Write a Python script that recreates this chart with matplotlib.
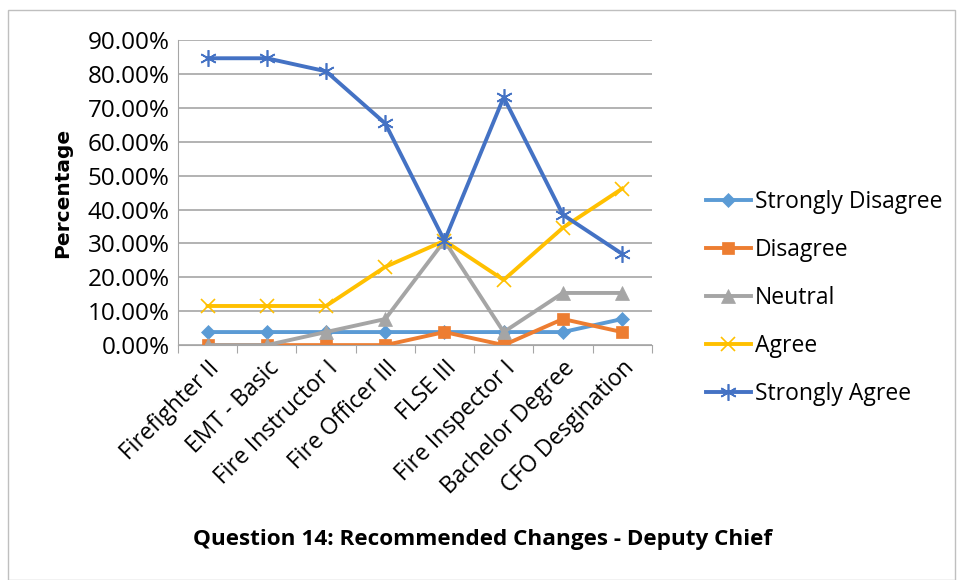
import matplotlib.pyplot as plt
from matplotlib.ticker import FuncFormatter
import numpy as np

plt.rcParams['font.family'] = ['Open Sans', 'DejaVu Sans']

categories = ['Firefighter II', 'EMT - Basic', 'Fire Instructor I', 'Fire Officer III',
              'FLSE III', 'Fire Inspector I', 'Bachelor Degree', 'CFO Desgination']

strongly_disagree = [3.85, 3.85, 3.85, 3.85, 3.85, 3.85, 3.85, 7.69]
disagree = [0.0, 0.0, 0.0, 0.0, 3.85, 0.0, 7.69, 3.85]
neutral = [0.0, 0.0, 3.85, 7.69, 30.77, 3.85, 15.38, 15.38]
agree = [11.54, 11.54, 11.54, 23.08, 30.77, 19.23, 34.62, 46.15]
strongly_agree = [84.62, 84.62, 80.77, 65.38, 30.77, 73.08, 38.46, 26.92]

series = [
    ('Strongly Disagree', strongly_disagree, '#5B9BD5', 'D', 7),
    ('Disagree', disagree, '#ED7D31', 's', 9),
    ('Neutral', neutral, '#A5A5A5', '^', 10),
    ('Agree', agree, '#FFC000', 'x', 10),
    ('Strongly Agree', strongly_agree, '#4472C4', (6, 2, 0), 12),
]

fig = plt.figure(figsize=(9.57, 5.8), dpi=100)
ax = fig.add_axes([0.186, 0.405, 0.495, 0.526])

x = np.arange(len(categories))
for name, vals, col, mk, ms in series:
    ax.plot(x, vals, color=col, lw=2.8, marker=mk, markersize=ms, label=name,
            markeredgewidth=1.2 if mk in ('x',) or isinstance(mk, tuple) else 0.5)

ax.set_xlim(-0.5, len(categories) - 0.5)
ax.set_ylim(0, 90)
ax.set_yticks(np.arange(0, 91, 10))
ax.yaxis.set_major_formatter(FuncFormatter(lambda v, p: '%.2f%%' % v))
ax.grid(axis='y', color='#A6A6A6', lw=1.2)
ax.set_axisbelow(True)

ax.set_xticks(np.arange(-0.5, len(categories), 1))
ax.set_xticklabels([])
ax.set_xticks(x, minor=True)
ax.set_xticklabels(categories, minor=True, rotation=45, ha='right', rotation_mode='anchor',
                   fontsize=16.5)
ax.tick_params(axis='x', which='minor', length=0, pad=8)
ax.tick_params(axis='x', which='major', length=6, color='#A6A6A6')
ax.tick_params(axis='y', length=0, labelsize=17.5, pad=6)

for s in ['top', 'right']:
    ax.spines[s].set_visible(False)
ax.spines['left'].set_color('#A6A6A6')
ax.spines['bottom'].set_color('#A6A6A6')

ax.set_ylabel('Percentage', fontsize=14.5, fontweight='bold', family='DejaVu Sans', labelpad=11)

fig.text(0.504, 0.06, 'Question 14: Recommended Changes - Deputy Chief', ha='center',
         fontsize=16.2, fontweight='bold')

ax.legend(loc='center left', bbox_to_anchor=(1.07, 0.155), frameon=False, fontsize=16.5,
          handlelength=2.0, handletextpad=0.15, labelspacing=1.05)

fig.patches.append(plt.Rectangle((0.008, 0.0), 0.99, 0.983, transform=fig.transFigure,
                                 fill=False, edgecolor='#BFBFBF', lw=1))

fig.savefig('out.png', dpi=100)
